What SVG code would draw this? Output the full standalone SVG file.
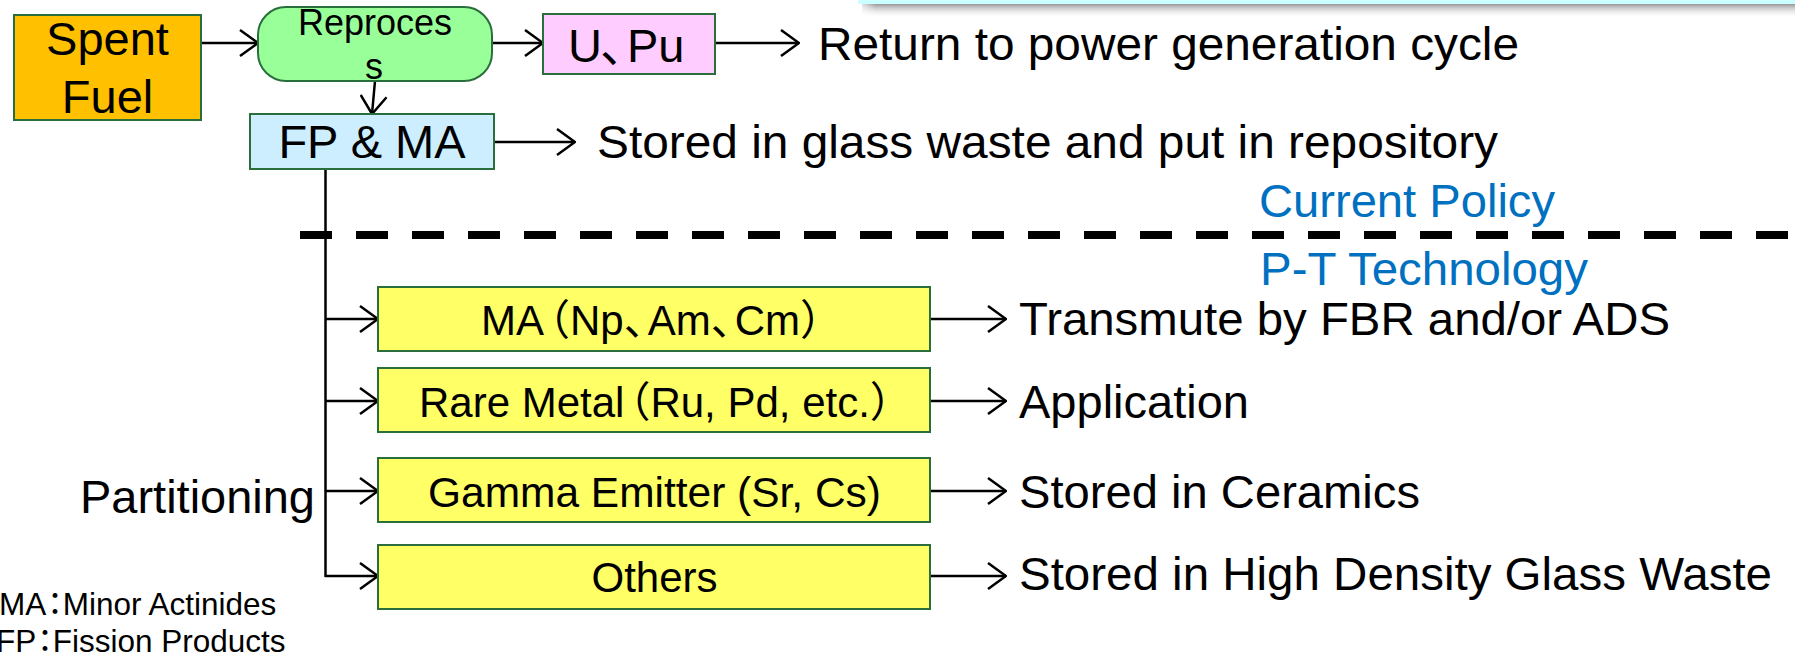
<svg xmlns="http://www.w3.org/2000/svg" width="1795" height="654" viewBox="0 0 1795 654">
  <style>
    .box { stroke: #2a6e3c; stroke-width: 2; }
    .lbl { font-family: "Liberation Sans", Arial, "Noto Sans CJK JP", sans-serif; fill: #000; }
    .big { font-size: 47px; }
    .mid { font-size: 42px; }
    .blue { fill: #0070c0; }
    .small { font-size: 31.5px; }
    .conn { stroke: #000; stroke-width: 2.5; fill: none; }
    .arr { marker-end: url(#head); }
  </style>
  <defs>
    <marker id="head" markerUnits="userSpaceOnUse" viewBox="0 0 20 28" refX="19" refY="14" markerWidth="20" markerHeight="28" orient="auto">
      <path d="M1,1 L19,14 L1,27" fill="none" stroke="#000" stroke-width="2.5"/>
    </marker>
    <linearGradient id="shade" x1="0" y1="0" x2="0" y2="1">
      <stop offset="0" stop-color="#8c8c8c" stop-opacity="0.9"/>
      <stop offset="1" stop-color="#ffffff" stop-opacity="0"/>
    </linearGradient>
    <linearGradient id="shadeL" x1="0" y1="0" x2="1" y2="0">
      <stop offset="0" stop-color="#fff" stop-opacity="1"/>
      <stop offset="1" stop-color="#fff" stop-opacity="0"/>
    </linearGradient>
  </defs>

  <rect width="1795" height="654" fill="#fff"/>

  <!-- panel edge at the top right -->
  <g id="panel">
    <rect x="862" y="4" width="940" height="14" fill="url(#shade)"/>
    <rect x="856" y="0" width="20" height="20" fill="url(#shadeL)"/>
    <rect x="858" y="-20" width="940" height="24" fill="#ccffff"/>
  </g>

  <!-- policy divider -->
  <line x1="300" y1="235" x2="1795" y2="235" stroke="#000" stroke-width="8" stroke-dasharray="32 24"/>

  <g id="connectors">
    <line class="conn arr" x1="201" y1="43" x2="258" y2="43"/>
    <line class="conn arr" x1="492" y1="43" x2="543" y2="43"/>
    <line class="conn arr" x1="715" y1="43" x2="799" y2="43"/>
    <line class="conn arr" x1="375" y1="81" x2="372" y2="114"/>
    <line class="conn arr" x1="494" y1="142" x2="575" y2="142"/>
    <line class="conn" x1="325.5" y1="169" x2="325.5" y2="577"/>
    <line class="conn arr" x1="325" y1="319" x2="378" y2="319"/>
    <line class="conn arr" x1="325" y1="401" x2="378" y2="401"/>
    <line class="conn arr" x1="325" y1="491" x2="378" y2="491"/>
    <line class="conn arr" x1="325" y1="576" x2="378" y2="576"/>
    <line class="conn arr" x1="930" y1="319" x2="1006" y2="319"/>
    <line class="conn arr" x1="930" y1="401" x2="1006" y2="401"/>
    <line class="conn arr" x1="930" y1="491" x2="1006" y2="491"/>
    <line class="conn arr" x1="930" y1="576" x2="1006" y2="576"/>
  </g>

  <g id="spent-fuel">
    <rect class="box" x="14" y="15" width="187" height="105" fill="#ffc000"/>
    <text class="lbl big" x="107.5" y="55" text-anchor="middle">Spent</text>
    <text class="lbl big" x="107.5" y="113" text-anchor="middle">Fuel</text>
  </g>

  <g id="reprocess">
    <rect class="box" x="258" y="7" width="234" height="74" rx="28" ry="28" fill="#99ff99"/>
    <text class="lbl" font-size="36" x="375" y="35" text-anchor="middle">Reproces</text>
    <text class="lbl" font-size="36" x="374" y="79" text-anchor="middle">s</text>
  </g>

  <g id="u-pu">
    <rect class="box" x="543" y="14" width="172" height="60" fill="#ffccff"/>
    <text class="lbl big" x="568" y="62">U<tspan dx="-2">、</tspan><tspan dx="-20">Pu</tspan></text>
  </g>

  <g id="fp-ma">
    <rect class="box" x="250" y="114" width="244" height="55" fill="#cceeff"/>
    <text class="lbl big" x="372" y="158" text-anchor="middle">FP &amp; MA</text>
  </g>

  <g id="ma">
    <rect class="box" x="378" y="287" width="552" height="64" fill="#ffff66"/>
    <text class="lbl mid" x="481" y="335">MA<tspan dx="-16">（</tspan>Np<tspan>、</tspan><tspan dx="-18">Am</tspan>、<tspan dx="-18">Cm</tspan>）</text>
  </g>

  <g id="rare-metal">
    <rect class="box" x="378" y="368" width="552" height="64" fill="#ffff66"/>
    <text class="lbl mid" x="419" y="417">Rare Metal<tspan dx="-16">（</tspan>Ru, Pd, etc.）</text>
  </g>

  <g id="gamma">
    <rect class="box" x="378" y="458" width="552" height="64" fill="#ffff66"/>
    <text class="lbl mid" x="654.5" y="507" text-anchor="middle" textLength="453" lengthAdjust="spacingAndGlyphs">Gamma Emitter (Sr, Cs)</text>
  </g>

  <g id="others">
    <rect class="box" x="378" y="545" width="552" height="64" fill="#ffff66"/>
    <text class="lbl mid" x="654.5" y="592" text-anchor="middle">Others</text>
  </g>

  <g id="outcomes">
    <text class="lbl big" x="818" y="60" textLength="701" lengthAdjust="spacingAndGlyphs">Return to power generation cycle</text>
    <text class="lbl big" x="597" y="158" textLength="901" lengthAdjust="spacingAndGlyphs">Stored in glass waste and put in repository</text>
    <text class="lbl big blue" x="1259" y="217" textLength="296" lengthAdjust="spacingAndGlyphs">Current Policy</text>
    <text class="lbl big blue" x="1260" y="285" textLength="328" lengthAdjust="spacingAndGlyphs">P-T Technology</text>
    <text class="lbl big" x="1019" y="335" textLength="651" lengthAdjust="spacingAndGlyphs">Transmute by FBR and/or ADS</text>
    <text class="lbl big" x="1019" y="418">Application</text>
    <text class="lbl big" x="1019" y="508" textLength="401" lengthAdjust="spacingAndGlyphs">Stored in Ceramics</text>
    <text class="lbl big" x="1019" y="590" textLength="753" lengthAdjust="spacingAndGlyphs">Stored in High Density Glass Waste</text>
    <text class="lbl big" x="80" y="513" textLength="235" lengthAdjust="spacingAndGlyphs">Partitioning</text>
  </g>

  <g id="legend">
    <text class="lbl small" x="-1" y="615">MA<tspan dx="-7">：</tspan><tspan dx="-8">Minor Actinides</tspan></text>
    <text class="lbl small" x="-4" y="652">FP<tspan dx="-7">：</tspan><tspan dx="-8">Fission Products</tspan></text>
  </g>
</svg>
